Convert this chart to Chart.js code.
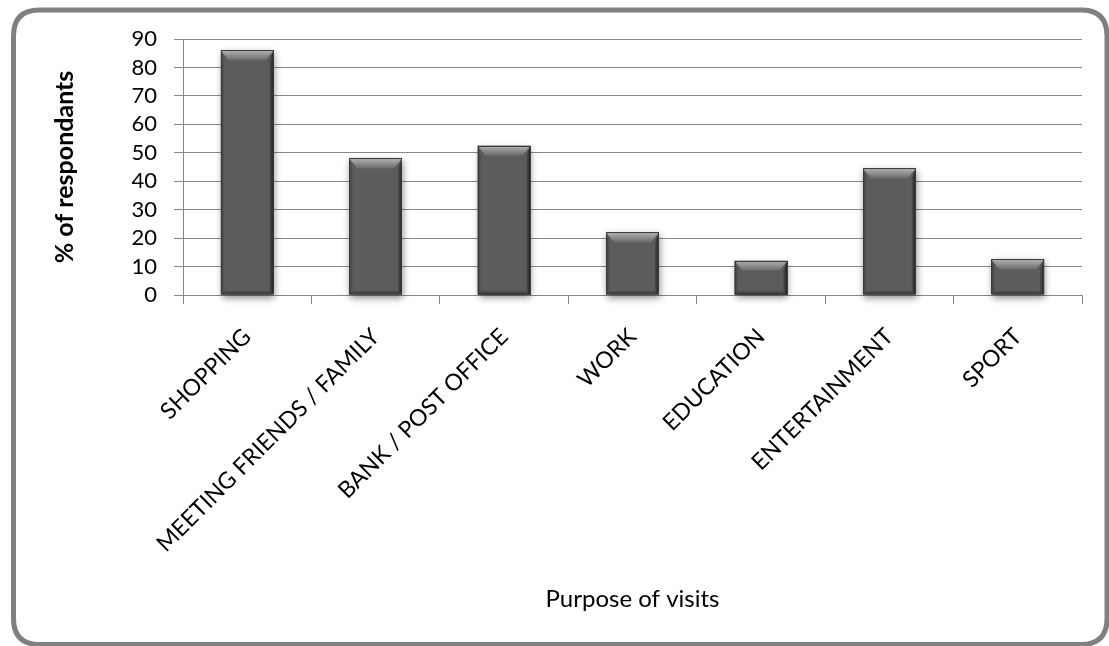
<!DOCTYPE html>
<html>
<head>
<meta charset="utf-8">
<title>Purpose of visits</title>
<script src="https://cdn.jsdelivr.net/npm/chart.js@4/dist/chart.umd.min.js"></script>
<style>
  html, body { margin: 0; padding: 0; background: #ffffff; }
  #wrap { width: 1109px; height: 646px; position: relative; }
</style>
</head>
<body>
<div id="wrap"><canvas id="chart" width="1109" height="646"></canvas></div>
<script>
// Survey results: share of respondents by purpose of visit
const categories = [
  'SHOPPING',
  'MEETING FRIENDS / FAMILY',
  'BANK / POST OFFICE',
  'WORK',
  'EDUCATION',
  'ENTERTAINMENT',
  'SPORT'
];
const respondentShare = [86, 48, 52.5, 22, 12, 44.5, 12.5];
const yTicks = [0, 10, 20, 30, 40, 50, 60, 70, 80, 90];
const yTitle = '% of respondants';
const xTitle = 'Purpose of visits';

const FONT = 'Lato, "DejaVu Sans", sans-serif';
const GRID = '#878787';

// Rounded frame around the whole chart
const framePlugin = {
  id: 'frame',
  beforeDraw(chart) {
    const ctx = chart.ctx;
    ctx.save();
    ctx.fillStyle = '#ffffff';
    ctx.fillRect(0, 0, chart.width, chart.height);
    const x = 13.5, y = 10, w = 1093.5, h = 634.5, r = 26;
    ctx.beginPath();
    ctx.moveTo(x + r, y);
    ctx.lineTo(x + w - r, y);
    ctx.quadraticCurveTo(x + w, y, x + w, y + r);
    ctx.lineTo(x + w, y + h - r);
    ctx.quadraticCurveTo(x + w, y + h, x + w - r, y + h);
    ctx.lineTo(x + r, y + h);
    ctx.quadraticCurveTo(x, y + h, x, y + h - r);
    ctx.lineTo(x, y + r);
    ctx.quadraticCurveTo(x, y, x + r, y);
    ctx.closePath();
    ctx.lineWidth = 5;
    ctx.strokeStyle = '#808080';
    ctx.stroke();
    ctx.restore();
  }
};

// Soft drop shadow under each bar and a bevelled look on top of it
const bevelPlugin = {
  id: 'bevel',
  beforeDatasetsDraw(chart) {
    const ctx = chart.ctx;
    const meta = chart.getDatasetMeta(0);
    ctx.save();
    meta.data.forEach(bar => {
      const p = bar.getProps(['x', 'y', 'base', 'width'], true);
      const l = p.x - p.width / 2;
      ctx.shadowColor = 'rgba(0,0,0,0.45)';
      ctx.shadowBlur = 7;
      ctx.shadowOffsetX = 1;
      ctx.shadowOffsetY = 3;
      ctx.fillStyle = '#5c5c5c';
      ctx.fillRect(l, p.y, p.width, p.base - p.y);
    });
    ctx.restore();
  },
  afterDatasetsDraw(chart) {
    const ctx = chart.ctx;
    const meta = chart.getDatasetMeta(0);
    ctx.save();
    meta.data.forEach(bar => {
      const p = bar.getProps(['x', 'y', 'base', 'width'], true);
      const l = p.x - p.width / 2, r = p.x + p.width / 2;
      const t = p.y, b = p.base;
      const bev = Math.min(10, (b - t) / 3);
      const side = 4;

      // left face
      let g = ctx.createLinearGradient(l, 0, l + side, 0);
      g.addColorStop(0, 'rgba(40,40,40,0.55)');
      g.addColorStop(1, 'rgba(40,40,40,0)');
      ctx.fillStyle = g;
      ctx.beginPath();
      ctx.moveTo(l, t); ctx.lineTo(l + side, t + bev);
      ctx.lineTo(l + side, b - 3); ctx.lineTo(l, b);
      ctx.closePath(); ctx.fill();

      // right face
      g = ctx.createLinearGradient(r - side, 0, r, 0);
      g.addColorStop(0, 'rgba(30,30,30,0.2)');
      g.addColorStop(1, 'rgba(25,25,25,0.9)');
      ctx.fillStyle = g;
      ctx.beginPath();
      ctx.moveTo(r, t); ctx.lineTo(r - side, t + bev);
      ctx.lineTo(r - side, b - 3); ctx.lineTo(r, b);
      ctx.closePath(); ctx.fill();

      // top face
      g = ctx.createLinearGradient(0, t, 0, t + bev);
      g.addColorStop(0, '#b0b0b0');
      g.addColorStop(0.35, '#9a9a9a');
      g.addColorStop(1, '#686868');
      ctx.fillStyle = g;
      ctx.beginPath();
      ctx.moveTo(l, t); ctx.lineTo(r, t);
      ctx.lineTo(r - side - 4, t + bev); ctx.lineTo(l + side + 4, t + bev);
      ctx.closePath(); ctx.fill();

      // bottom face
      g = ctx.createLinearGradient(0, b - 4, 0, b);
      g.addColorStop(0, 'rgba(30,30,30,0.1)');
      g.addColorStop(1, 'rgba(30,30,30,0.6)');
      ctx.fillStyle = g;
      ctx.beginPath();
      ctx.moveTo(l, b); ctx.lineTo(r, b);
      ctx.lineTo(r - side, b - 4); ctx.lineTo(l + side, b - 4);
      ctx.closePath(); ctx.fill();

      // outline
      ctx.strokeStyle = '#3c3c3c';
      ctx.lineWidth = 1;
      ctx.strokeRect(Math.round(l) + 0.5, Math.round(t) + 0.5,
                     Math.round(r - l) - 1, Math.round(b - t) - 1);
    });
    ctx.restore();
  }
};

new Chart(document.getElementById('chart'), {
  type: 'bar',
  data: {
    labels: categories,
    datasets: [{
      data: respondentShare,
      backgroundColor: '#5c5c5c',
      borderWidth: 0,
      categoryPercentage: 1.0,
      barPercentage: 0.41
    }]
  },
  options: {
    responsive: false,
    animation: false,
    events: [],
    layout: { padding: { left: 0, top: 39, right: 27, bottom: 0 } },
    plugins: {
      legend: { display: false },
      tooltip: { enabled: false }
    },
    scales: {
      x: {
        grid: {
          display: true,
          drawOnChartArea: false,
          drawTicks: true,
          tickLength: 9,
          color: GRID,
          lineWidth: 1,
          offset: true
        },
        border: { display: true, color: GRID, width: 1 },
        ticks: {
          color: '#000000',
          font: { family: FONT, size: 23 },
          maxRotation: 45,
          minRotation: 45,
          autoSkip: false,
          padding: 19
        },
        title: {
          display: true,
          text: xTitle,
          color: '#000000',
          font: { family: FONT, size: 24 },
          padding: { top: 0, bottom: 32 }
        },
        afterFit(scale) { scale.height = 351; }
      },
      y: {
        min: 0,
        max: 90,
        afterBuildTicks(scale) { scale.ticks = yTicks.map(v => ({ value: v })); },
        grid: {
          color: GRID,
          lineWidth: 1,
          drawTicks: true,
          tickLength: 9
        },
        border: { display: true, color: GRID, width: 1 },
        ticks: {
          color: '#000000',
          font: { family: FONT, size: 22 },
          padding: 17,
          autoSkip: false,
          stepSize: 10
        },
        title: {
          display: true,
          text: yTitle,
          color: '#000000',
          font: { family: FONT, size: 25, weight: 'bold' },
          padding: { top: 50, bottom: 0 }
        },
        afterFit(scale) { scale.width = 183; }
      }
    }
  },
  plugins: [framePlugin, bevelPlugin]
});
</script>
</body>
</html>
